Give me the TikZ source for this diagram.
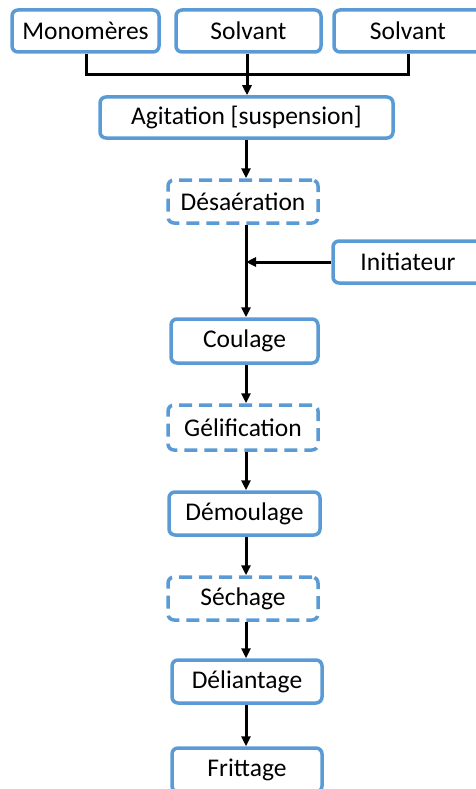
\documentclass[tikz,border=0pt]{standalone}
\usepackage{fontspec}
\setmainfont{Carlito}
\usetikzlibrary{arrows.meta}
\definecolor{boxblue}{HTML}{5B9BD5}
\tikzset{
  stepbox/.style={draw=boxblue, line width=3.5pt, rounded corners=6pt, fill=white,
    inner sep=0pt, font=\fontsize{25.5}{30}\selectfont, minimum height=42pt},
  dashbox/.style={stepbox, dash pattern=on 13pt off 7pt},
  flow/.style={line width=3pt, -{Triangle[length=10pt,width=9pt]}},
  plainline/.style={line width=3pt},
}
\begin{document}
\begin{tikzpicture}[x=1pt,y=-1pt]
\useasboundingbox (0,0) rectangle (476,789);
\node[stepbox, minimum width=147pt] (mono) at (85.5,31) {Monomères};
\node[stepbox, minimum width=145pt] (solvA) at (248.5,31) {Solvant};
\node[stepbox, minimum width=148pt] (solvB) at (408,31) {Solvant};
\node[stepbox, minimum width=293pt, minimum height=41pt] (agit) at (246.5,117.5) {Agitation [suspension]};
\node[dashbox, minimum width=150pt, minimum height=43pt] (desa) at (243,201.5) {Désaération};
\node[stepbox, minimum width=150pt] (init) at (408,262) {Initiateur};
\node[stepbox, minimum width=147pt, minimum height=44pt] (coul) at (244.5,341) {Coulage};
\node[dashbox, minimum width=150pt, minimum height=45pt] (geli) at (243,427.5) {Gélification};
\node[stepbox, minimum width=151pt, minimum height=43pt] (demo) at (244.5,513.5) {Démoulage};
\node[dashbox, minimum width=150pt, minimum height=43pt] (sech) at (243,598.5) {Séchage};
\node[stepbox, minimum width=150pt, minimum height=43pt] (deli) at (247,681.5) {Déliantage};
\node[stepbox, minimum width=150pt, minimum height=44pt] (frit) at (247,770) {Frittage};

\coordinate (top) at (247,75);
\coordinate (join) at (246,262);
\draw[plainline] (mono.south -| 86,0) -- (86,75) -- (408,75) -- (solvB.south -| 408,0);
\draw[plainline] (solvA.south -| 247,0) -- (top);
\draw[flow] (top) -- (agit.north -| top);
\draw[flow] (agit.south -| 246,0) -- (desa.north -| 246,0);
\draw[plainline] (desa.south -| join) -- (join);
\draw[flow] (init.west) -- (join);
\draw[flow] (join) -- (coul.north -| join);
\draw[flow] (coul.south -| 246,0) -- (geli.north -| 246,0);
\draw[flow] (geli.south -| 246,0) -- (demo.north -| 246,0);
\draw[flow] (demo.south -| 246,0) -- (sech.north -| 246,0);
\draw[flow] (sech.south -| 246,0) -- (deli.north -| 246,0);
\draw[flow] (deli.south -| 246,0) -- (frit.north -| 246,0);
\end{tikzpicture}
\end{document}
